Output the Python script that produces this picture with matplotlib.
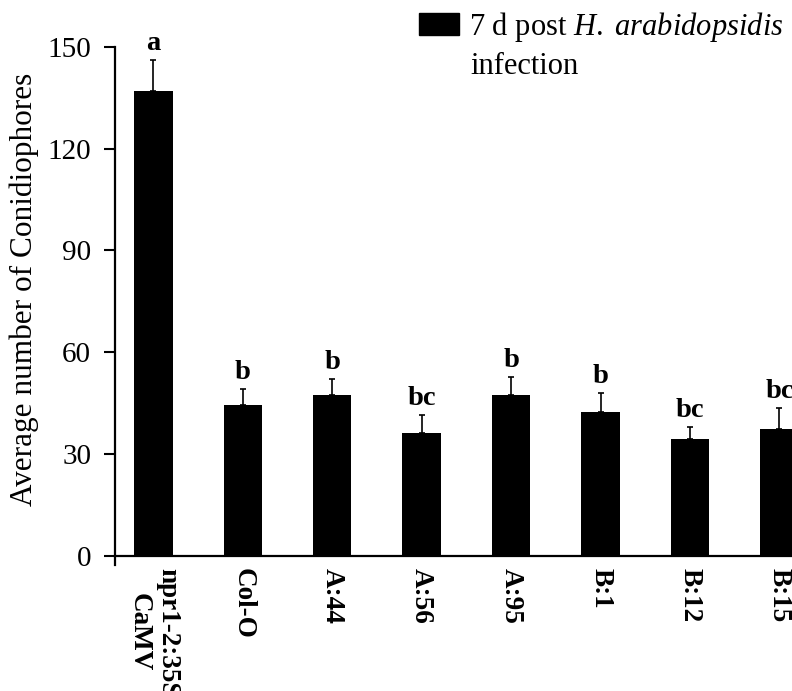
import numpy as np
import matplotlib
matplotlib.use("Agg")
import matplotlib.pyplot as plt
from matplotlib.patches import Patch

# --- data
lines = ["npr1-2:35S\nCaMV", "Col-O", "A:44", "A:56", "A:95", "B:1", "B:12", "B:15"]
means = [137, 44.5, 47.5, 36.3, 47.5, 42.3, 34.6, 37.3]
sem = [9, 4.6, 4.6, 5.2, 5.1, 5.7, 3.4, 6.4]
letters = ["a", "b", "b", "bc", "b", "b", "bc", "bc"]

plt.rcParams["font.family"] = ["Liberation Serif", "DejaVu Serif"]
plt.rcParams["mathtext.fontset"] = "custom"
plt.rcParams["mathtext.rm"] = "Liberation Serif"
plt.rcParams["mathtext.it"] = "Liberation Serif:italic"

fig = plt.figure(figsize=(7.92, 6.91), dpi=100)
ax = fig.add_axes([0.145, 0.183, 0.855, 0.7494])

# spines first: set_position resets tick label styling
for side in ["top", "right"]:
    ax.spines[side].set_visible(False)
ax.spines["bottom"].set_position(("data", 0))
ax.spines["left"].set_bounds(-2.5, 150)
ax.spines["left"].set_linewidth(1.6)
ax.spines["bottom"].set_linewidth(1.6)

x = np.arange(len(lines))
ax.bar(x, means, width=0.43, color="black")
ax.errorbar(x, means, yerr=[np.zeros(len(sem)), sem], fmt="none",
            ecolor="black", elinewidth=1.2, capsize=2.5, capthick=1.2)

# significance letters above the error bars
for xi, m, s, lab in zip(x, means, sem, letters):
    ax.annotate(lab, (xi, m + s), xytext=(0, 3), textcoords="offset points",
                ha="center", va="bottom", fontsize=20.5, fontweight="bold")

ax.set_xlim(-0.43, 7.14)
ax.set_ylim(-2.5, 150)
ax.set_yticks([0, 30, 60, 90, 120, 150])
ax.set_xticks(x)
ax.set_xticklabels(lines, rotation=-90, rotation_mode="anchor", fontsize=19.5,
                   fontweight="bold", ha="left", va="center", multialignment="center")
ax.tick_params(axis="x", length=0, pad=8.5)
ax.tick_params(axis="y", direction="out", length=8, width=1.5, labelsize=21, pad=9)

ax.set_ylabel("Average number of Conidiophores", fontsize=22.5)
ax.yaxis.set_label_coords(-0.112, 0.532)

ax.legend(handles=[Patch(color="black", label="7 d post $\\it{H.\\ arabidopsidis}$")],
          loc="upper left", bbox_to_anchor=(419 / 792, 1 - 10 / 691),
          bbox_transform=fig.transFigure, frameon=False, fontsize=22,
          borderpad=0, borderaxespad=0, handlelength=1.3, handleheight=0.72,
          handletextpad=0.33)
fig.text(470 / 792, 1 - 66 / 691, "infection", fontsize=22, va="center", ha="left")

fig.savefig("out.png", dpi=100)
